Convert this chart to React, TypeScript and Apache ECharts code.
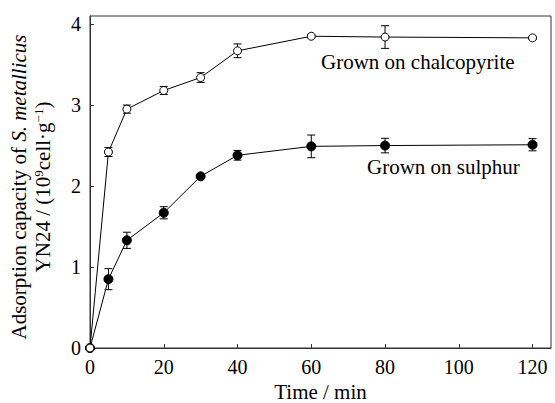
import React, { useEffect, useRef } from "react";
import * as echarts from "echarts";

const timeMin = [0, 5, 10, 20, 30, 40, 60, 80, 120];
const chalcopyrite = [0, 2.42, 2.95, 3.18, 3.34, 3.67, 3.85, 3.84, 3.83];
const chalcopyriteErr = [0, 0.055, 0.05, 0.05, 0.06, 0.085, 0.02, 0.14, 0.02];
const sulphur = [0, 0.85, 1.33, 1.67, 2.12, 2.38, 2.49, 2.5, 2.51];
const sulphurErr = [0, 0.13, 0.1, 0.075, 0.02, 0.06, 0.14, 0.09, 0.075];
const xTicks = [0, 20, 40, 60, 80, 100, 120];
const yTicks = [0, 1, 2, 3, 4];

const FONT = '"Liberation Serif", "Times New Roman", serif';

export default function App() {
  const ref = useRef<HTMLDivElement>(null);
  useEffect(() => {
    if (!ref.current) return;
    const chart = echarts.init(ref.current, null, { renderer: "svg" });
    const errData = (vals: number[], errs: number[]) =>
      timeMin.map((t, i) => [t, vals[i] - errs[i], vals[i] + errs[i]]);
    const errSeries = (vals: number[], errs: number[]) => ({
      type: "custom",
      z: 1,
      clip: false,
      data: errData(vals, errs),
      renderItem: (params: any, api: any) => {
        const lo = api.coord([api.value(0), api.value(1)]);
        const hi = api.coord([api.value(0), api.value(2)]);
        const w = 4;
        const st = { stroke: "#000", lineWidth: 1 };
        return {
          type: "group",
          children: [
            { type: "line", shape: { x1: lo[0], y1: lo[1], x2: hi[0], y2: hi[1] }, style: st },
            { type: "line", shape: { x1: lo[0] - w, y1: lo[1], x2: lo[0] + w, y2: lo[1] }, style: st },
            { type: "line", shape: { x1: hi[0] - w, y1: hi[1], x2: hi[0] + w, y2: hi[1] }, style: st },
          ],
        };
      },
    });
    chart.setOption({
      animation: false,
      grid: {
        left: 90,
        top: 16,
        right: 4,
        bottom: 55,
        containLabel: false,
        outerBoundsMode: "none",
        show: true,
        borderColor: "#333",
        borderWidth: 1,
      },
      xAxis: {
        type: "value",
        min: 0,
        max: 125,
        name: "Time / min",
        nameLocation: "middle",
        nameGap: 33,
        nameTextStyle: { fontFamily: FONT, fontSize: 21, lineHeight: 21, color: "#000" },
        axisLine: { lineStyle: { color: "#333" } },
        axisTick: { inside: true, length: 4, lineStyle: { color: "#333" }, customValues: xTicks },
        axisLabel: { fontFamily: FONT, fontSize: 20, color: "#000", margin: 9, customValues: xTicks },
        splitLine: { show: false },
      },
      yAxis: {
        type: "value",
        min: 0,
        max: 4.1,
        axisLine: { show: true, lineStyle: { color: "#333" } },
        axisTick: { show: true, inside: true, length: 4, lineStyle: { color: "#333" }, customValues: yTicks },
        axisLabel: { fontFamily: FONT, fontSize: 20, color: "#000", margin: 9, customValues: yTicks },
        splitLine: { show: false },
      },
      graphic: [
        {
          type: "text",
          x: 31,
          y: 187,
          rotation: Math.PI / 2,
          style: {
            text:
              "{a|Adsorption capacity of }{i|S. metallicus}\n{a|YN24 / (10}{s|9}{a|cell·g}{s|−1}{a|)}",
            align: "center",
            verticalAlign: "middle",
            fill: "#000",
            rich: {
              a: { fontFamily: FONT, fontSize: 21, lineHeight: 24, fill: "#000" },
              i: { fontFamily: FONT, fontSize: 21, lineHeight: 24, fontStyle: "italic", fill: "#000" },
              s: { fontFamily: FONT, fontSize: 13, lineHeight: 24, fill: "#000", padding: [0, 0, 10, 0] },
            },
          },
        },
        {
          type: "text",
          x: 321,
          y: 62,
          style: { text: "Grown on chalcopyrite", fontFamily: FONT, fontSize: 21, fill: "#000", verticalAlign: "middle" },
        },
        {
          type: "text",
          x: 367,
          y: 167,
          style: { text: "Grown on sulphur", fontFamily: FONT, fontSize: 21, fill: "#000", verticalAlign: "middle" },
        },
      ],
      series: [
        errSeries(sulphur, sulphurErr),
        errSeries(chalcopyrite, chalcopyriteErr),
        {
          type: "line",
          z: 2,
          clip: false,
          data: timeMin.map((t, i) => [t, sulphur[i]]),
          symbol: "circle",
          symbolSize: 9,
          lineStyle: { color: "#000", width: 1 },
          itemStyle: { color: "#000", borderColor: "#000", borderWidth: 1 },
        },
        {
          type: "line",
          z: 3,
          clip: false,
          data: timeMin.map((t, i) => [t, chalcopyrite[i]]),
          symbol: "circle",
          symbolSize: 8,
          showAllSymbol: true,
          lineStyle: { color: "#000", width: 1 },
          itemStyle: { color: "#fff", borderColor: "#000", borderWidth: 1 },
        },
      ],
    });
    return () => chart.dispose();
  }, []);
  return <div ref={ref} style={{ width: 555, height: 403, position: "absolute", left: 0, top: 0 }} />;
}
